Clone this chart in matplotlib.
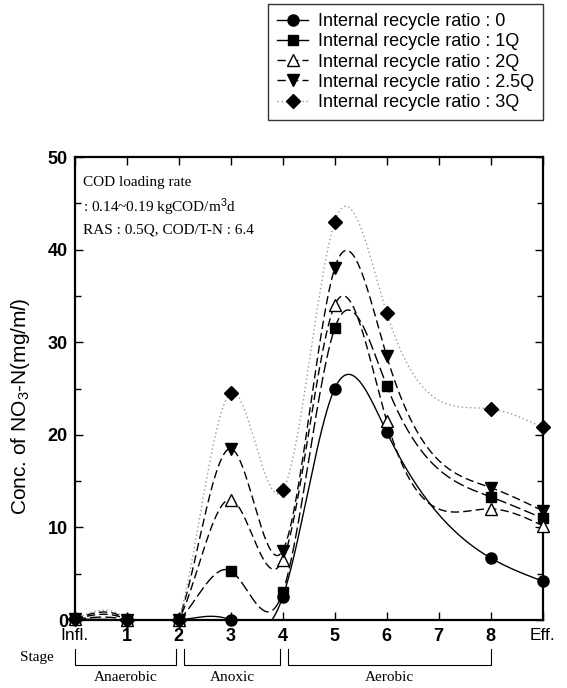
import numpy as np
import matplotlib
matplotlib.use("Agg")
import matplotlib.pyplot as plt
from matplotlib.lines import Line2D
import matplotlib.transforms as mtransforms

plt.rcParams['font.family'] = ['Liberation Sans', 'DejaVu Sans']
plt.rcParams['mathtext.fontset'] = 'custom'
plt.rcParams['mathtext.rm'] = 'Liberation Sans'
plt.rcParams['mathtext.it'] = 'Liberation Sans:italic'

# stage positions (7 has no sample)
stages = [0, 1, 2, 3, 4, 5, 6, 8, 9]
tick_pos = [0, 1, 2, 3, 4, 5, 6, 7, 8, 9]
tick_labels = ['Infl.', '1', '2', '3', '4', '5', '6', '7', '8', 'Eff.']

ratio_0 = [0.1, 0.0, 0.0, 0.0, 2.5, 25.0, 20.3, 6.7, 4.2]
ratio_1q = [0.1, 0.0, 0.0, 5.3, 3.0, 31.5, 25.3, 13.3, 11.0]
ratio_2q = [0.1, 0.0, 0.0, 13.0, 6.5, 34.0, 21.5, 12.0, 10.2]
ratio_25q = [0.1, 0.0, 0.0, 18.5, 7.5, 38.0, 28.5, 14.3, 11.8]
ratio_3q = [0.1, 0.0, 0.0, 24.5, 14.0, 43.0, 33.2, 22.8, 20.8]

labels = ['Internal recycle ratio : 0', 'Internal recycle ratio : 1Q',
          'Internal recycle ratio : 2Q', 'Internal recycle ratio : 2.5Q',
          'Internal recycle ratio : 3Q']

phases = ['Anaerobic', 'Anoxic', 'Aerobic']
phase_edges = [(0, 1.95), (2.1, 3.95), (4.1, 8.0)]


def natural_spline(x, y, xs):
    x = np.asarray(x, float)
    y = np.asarray(y, float)
    n = len(x)
    h = np.diff(x)
    A = np.zeros((n, n))
    b = np.zeros(n)
    A[0, 0] = 1
    A[-1, -1] = 1
    for i in range(1, n - 1):
        A[i, i - 1] = h[i - 1]
        A[i, i] = 2 * (h[i - 1] + h[i])
        A[i, i + 1] = h[i]
        b[i] = 3 * ((y[i + 1] - y[i]) / h[i] - (y[i] - y[i - 1]) / h[i - 1])
    c = np.linalg.solve(A, b)
    bb = (y[1:] - y[:-1]) / h - h * (2 * c[:-1] + c[1:]) / 3
    d = (c[1:] - c[:-1]) / (3 * h)
    idx = np.clip(np.searchsorted(x, xs) - 1, 0, n - 2)
    dx = xs - x[idx]
    return y[idx] + bb[idx] * dx + c[idx] * dx ** 2 + d[idx] * dx ** 3


fig = plt.figure(figsize=(5.67, 6.88), dpi=100)
ax = fig.add_axes([0.132, 0.0988, 0.825, 0.673])

series = [ratio_0, ratio_1q, ratio_2q, ratio_25q, ratio_3q]
markers = ['o', 's', '^', 'v', 'D']
faces = ['black', 'black', 'white', 'black', 'black']
msizes = [8, 7, 8, 8, 7]
styles = ['-', (0, (8, 3)), (0, (6, 3)), (0, (6, 3)), (0, (1, 2))]
lcolors = ['black', 'black', 'black', 'black', '#999999']

xs = np.linspace(0, 9, 400)
handles = []
for vals, m, fc, ms, ls, lc, lab in zip(series, markers, faces, msizes, styles, lcolors, labels):
    ys = natural_spline(stages, vals, xs)
    ax.plot(xs, ys, color=lc, linestyle=ls, linewidth=1.0, zorder=2)
    ax.plot(stages, vals, linestyle='none', marker=m, markersize=ms,
            markerfacecolor=fc, markeredgecolor='black', markeredgewidth=1.0,
            clip_on=False, zorder=3)
    hls = '-' if lab.endswith((': 0', '1Q')) else ls
    handles.append(Line2D([], [], color=lc, linestyle=hls, linewidth=1.0, marker=m,
                          markersize=ms, markerfacecolor=fc, markeredgecolor='black'))

ax.set_xlim(0, 9)
ax.set_ylim(0, 50)
ax.set_xticks(tick_pos)
ax.set_xticklabels(tick_labels)
ax.set_yticks([0, 10, 20, 30, 40, 50])
ax.set_yticks([5, 15, 25, 35, 45], minor=True)
ax.tick_params(axis='both', direction='in', top=True, right=True, length=6, width=1,
               labelsize=13)
ax.tick_params(axis='y', which='minor', direction='in', right=True, length=4, width=1)
ax.tick_params(axis='x', pad=6)
ax.tick_params(axis='y', pad=5)
for lab in ax.get_yticklabels():
    lab.set_fontweight('bold')
for lab in ax.get_xticklabels():
    if lab.get_text() not in ('Infl.', 'Eff.'):
        lab.set_fontweight('bold')
    else:
        lab.set_fontsize(12.5)
for sp in ax.spines.values():
    sp.set_linewidth(1.6)

ax.set_ylabel(r'Conc. of NO$_3$-N(mg/m$\mathit{l}$)', fontsize=15)
ax.yaxis.set_label_coords(-0.092, 0.462)

ax.text(0.017, 0.944, 'COD loading rate', transform=ax.transAxes,
        family='Liberation Serif', fontsize=11, va='center')
ax.text(0.017, 0.892, r': 0.14~0.19 kgCOD/m$^3$d', transform=ax.transAxes,
        family='Liberation Serif', fontsize=11, va='center')
ax.text(0.017, 0.842, 'RAS : 0.5Q, COD/T-N : 6.4', transform=ax.transAxes,
        family='Liberation Serif', fontsize=11, va='center')

# stage brackets under the axis
trans = mtransforms.blended_transform_factory(ax.transData, ax.transAxes)
y_top, y_bot = -0.062, -0.097
for (x0, x1), name in zip(phase_edges, phases):
    ax.plot([x0, x0, x1, x1], [y_top, y_bot, y_bot, y_top], color='black', lw=0.8,
            transform=trans, clip_on=False)
    ax.text((x0 + x1) / 2, -0.125, name, transform=trans, ha='center', va='center',
            family='Liberation Serif', fontsize=11)
ax.text(-0.045, -0.08, 'Stage', transform=ax.transAxes, ha='right', va='center',
        family='Liberation Serif', fontsize=11)

fig.legend(handles, labels, loc='upper right', bbox_to_anchor=(543 / 567, 1 - 4 / 688),
           borderaxespad=0, frameon=True, fancybox=False, edgecolor='black',
           fontsize=13, handlelength=1.7, handletextpad=0.55, labelspacing=0.18,
           borderpad=0.5)

fig.savefig('out.png', dpi=100)
